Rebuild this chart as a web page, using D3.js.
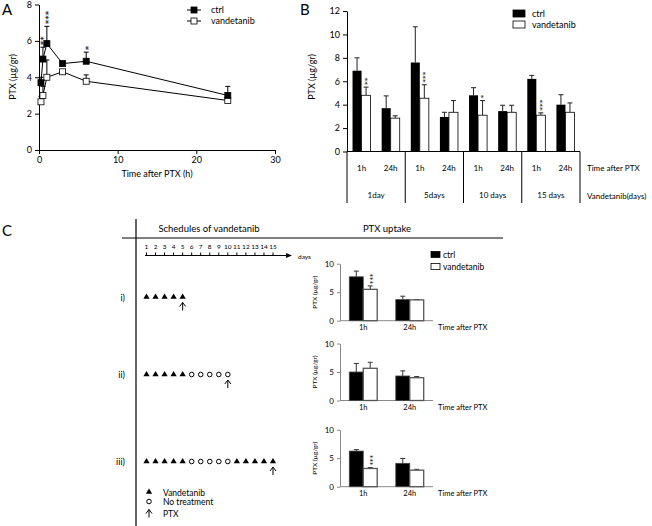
<!DOCTYPE html>
<html>
<head>
<meta charset="utf-8">
<script src="https://cdn.jsdelivr.net/npm/d3@7"></script>
<style>
  body { margin: 0; background: #fff; }
  svg { display: block; font-family: Lato, "Open Sans", sans-serif; }
</style>
</head>
<body>
<svg id="fig" width="652" height="526"></svg>
<script>
// ---- panel A: time course
const timeA = [0.25, 0.5, 1, 3, 6, 24];
const ctrlA = [3.7, 5.0, 5.85, 4.75, 4.88, 3.0];
const ctrlAErr = [0.3, 0.65, 0.95, 0.1, 0.5, 0.5];
const vandA = [2.65, 3.0, 4.0, 4.3, 3.78, 2.72];
const vandAErr = [0.3, 0.5, 0.95, 0.1, 0.35, 0.05];
const sigA = ["", "**", "***", "", "*", ""];
const xTicksA = [0, 10, 20, 30];
const yTicksA = [0, 2, 4, 6, 8];

// ---- panel B: duration of vandetanib
const groupsB = ["1day", "5days", "10 days", "15 days"];
const timesB = ["1h", "24h"];
const ctrlB = [6.9, 3.7, 7.6, 2.95, 4.8, 3.45, 6.2, 4.0];
const ctrlBErr = [1.1, 1.05, 3.05, 0.4, 0.65, 0.5, 0.3, 0.85];
const vandB = [4.8, 2.85, 4.55, 3.35, 3.1, 3.35, 3.1, 3.35];
const vandBErr = [0.7, 0.2, 1.15, 1.0, 1.25, 0.6, 0.2, 0.8];
const sigB = ["**", "", "***", "", "*", "", "***", ""];
const yTicksB = [0, 2, 4, 6, 8, 10, 12];

// ---- panel C: schedules
const rowLabelsC = ["i)", "ii)", "iii)"];
const daysC = d3.range(1, 16);
const scheduleI = ["V", "V", "V", "V", "V"];
const scheduleII = ["V", "V", "V", "V", "V", "N", "N", "N", "N", "N"];
const scheduleIII = ["V", "V", "V", "V", "V", "N", "N", "N", "N", "N", "V", "V", "V", "V", "V"];
const ptxDayC = [5, 10, 15];
const timesC = ["1h", "24h"];
const ctrlC = [[7.7, 3.7], [5.0, 4.3], [6.25, 4.1]];
const ctrlCErr = [[1.0, 0.6], [1.5, 0.9], [0.25, 0.85]];
const vandC = [[5.5, 3.65], [5.65, 4.0], [3.2, 2.9]];
const vandCErr = [[0.6, 0.05], [1.05, 0.2], [0.15, 0.15]];
const sigC = [["***", ""], ["", ""], ["***", ""]];
const yTicksC = [0, 5, 10];

const svg = d3.select("#fig");
const FONT = "Lato, 'Open Sans', sans-serif";

function styleAxis(g, size, color) {
  g.attr("font-family", FONT).attr("font-size", size);
  g.select(".domain").attr("stroke", color);
  g.selectAll(".tick line").attr("stroke", color);
  g.selectAll(".tick text").attr("fill", "#000");
}

// asterisks written bottom-to-top, starting at yBottom
function stars(g, x, yBottom, s, size) {
  g.append("text")
    .attr("transform", `translate(${x + size * 0.5},${yBottom}) rotate(-90)`)
    .attr("font-family", "DejaVu Sans")
    .attr("font-size", size)
    .text(s);
}

function errBar(g, x, y0, y1, w, color) {
  g.append("line").attr("x1", x).attr("x2", x).attr("y1", y0).attr("y2", y1)
    .attr("stroke", color).attr("stroke-width", 1);
  g.append("line").attr("x1", x - w / 2).attr("x2", x + w / 2).attr("y1", y1).attr("y2", y1)
    .attr("stroke", color).attr("stroke-width", 1);
}

// ================= A =================
const gA = svg.append("g");
gA.append("text").attr("x", 2).attr("y", 15).attr("font-size", 15).text("A");

const xA = d3.scaleLinear().domain([0, 30]).range([39, 275]);
const yA = d3.scaleLinear().domain([0, 8]).range([150, 4.5]);

gA.append("g").attr("transform", "translate(0,150)")
  .call(d3.axisBottom(xA).tickValues(xTicksA).tickSize(4).tickSizeOuter(0).tickPadding(3))
  .call(styleAxis, 9, "#000");
gA.append("g").attr("transform", "translate(39,0)")
  .call(d3.axisLeft(yA).tickValues(yTicksA).tickSize(4).tickSizeOuter(0).tickPadding(3))
  .call(styleAxis, 9, "#000");

gA.append("text").attr("x", 157).attr("y", 177).attr("text-anchor", "middle")
  .attr("font-size", 9).text("Time after PTX (h)");
gA.append("text").attr("transform", "translate(16,77) rotate(-90)").attr("text-anchor", "middle")
  .attr("font-size", 9).text("PTX (µg/gr)");

const lineA = d3.line().x(d => xA(d[0])).y(d => yA(d[1]));
const seriesA = [
  { vals: ctrlA, err: ctrlAErr, fill: "#000" },
  { vals: vandA, err: vandAErr, fill: "#fff" }
];
seriesA.forEach(s => {
  gA.append("path").datum(timeA.map((t, i) => [t, s.vals[i]]))
    .attr("d", lineA).attr("fill", "none").attr("stroke", "#000").attr("stroke-width", 1);
});
seriesA.forEach(s => {
  timeA.forEach((t, i) => errBar(gA, xA(t), yA(s.vals[i]), yA(s.vals[i] + s.err[i]), 5, "#000"));
});
seriesA.slice().reverse().forEach(s => {
  gA.selectAll(null).data(timeA.map((t, i) => [t, s.vals[i]])).enter().append("rect")
    .attr("x", d => xA(d[0]) - 3).attr("y", d => yA(d[1]) - 3)
    .attr("width", 6).attr("height", 6)
    .attr("fill", s.fill).attr("stroke", "#000").attr("stroke-width", 0.8);
});
timeA.forEach((t, i) => {
  if (sigA[i]) stars(gA, xA(t) + (i === 1 ? 0 : 1), yA(ctrlA[i] + ctrlAErr[i]) - 2, sigA[i], 9);
});

// legend A
[["ctrl", "#000", 10], ["vandetanib", "#fff", 21]].forEach(([lab, fill, y]) => {
  gA.append("line").attr("x1", 187).attr("x2", 201).attr("y1", y).attr("y2", y).attr("stroke", "#000");
  gA.append("rect").attr("x", 191).attr("y", y - 3).attr("width", 6).attr("height", 6)
    .attr("fill", fill).attr("stroke", "#000").attr("stroke-width", 0.8);
  gA.append("text").attr("x", 211).attr("y", y + 3).attr("font-size", 9).text(lab);
});

// ================= B =================
const gB = svg.append("g");
gB.append("text").attr("x", 300).attr("y", 15).attr("font-size", 15).text("B");

const catsB = groupsB.flatMap(g => timesB.map(t => g + "|" + t));
const xB = d3.scaleBand().domain(catsB).range([347, 580]).paddingInner(0.38).paddingOuter(0.19);
const yB = d3.scaleLinear().domain([0, 12]).range([151.5, 11]);

gB.append("g").attr("transform", "translate(347,0)")
  .call(d3.axisLeft(yB).tickValues(yTicksB).tickSize(4).tickSizeOuter(0).tickPadding(3))
  .call(styleAxis, 9, "#000");
gB.append("text").attr("transform", "translate(315,77) rotate(-90)").attr("text-anchor", "middle")
  .attr("font-size", 9).text("PTX (µg/gr)");

const bwB = xB.bandwidth() / 2;
catsB.forEach((c, i) => {
  const x0 = xB(c);
  errBar(gB, x0 + bwB / 2, yB(ctrlB[i]), yB(ctrlB[i] + ctrlBErr[i]), 5, "#222");
  errBar(gB, x0 + bwB * 1.5, yB(vandB[i]), yB(vandB[i] + vandBErr[i]), 5, "#222");
  gB.append("rect").attr("x", x0).attr("y", yB(ctrlB[i])).attr("width", bwB)
    .attr("height", yB(0) - yB(ctrlB[i])).attr("fill", "#000");
  gB.append("rect").attr("x", x0 + bwB).attr("y", yB(vandB[i])).attr("width", bwB)
    .attr("height", yB(0) - yB(vandB[i])).attr("fill", "#fff").attr("stroke", "#000").attr("stroke-width", 0.8);
  if (sigB[i]) stars(gB, x0 + bwB * 1.5, yB(vandB[i] + vandBErr[i]) - 2, sigB[i], 7.5);
});
// x axis + table below
gB.append("line").attr("x1", 347).attr("x2", 580).attr("y1", yB(0)).attr("y2", yB(0)).attr("stroke", "#000");
gB.append("line").attr("x1", 347).attr("x2", 347).attr("y1", yB(0)).attr("y2", 203).attr("stroke", "#000");
const stepB = xB.step();
groupsB.forEach((g, gi) => {
  const xr = 347 + (gi + 1) * 2 * stepB;
  gB.append("line").attr("x1", xr).attr("x2", xr).attr("y1", yB(0)).attr("y2", 203).attr("stroke", "#000");
  gB.append("text").attr("x", 347 + (gi * 2 + 1) * stepB).attr("y", 198)
    .attr("text-anchor", "middle").attr("font-size", 8).text(g);
  timesB.forEach(t => {
    gB.append("text").attr("x", xB(g + "|" + t) + xB.bandwidth() / 2).attr("y", 170.5)
      .attr("text-anchor", "middle").attr("font-size", 8).text(t);
  });
});
gB.append("text").attr("x", 587).attr("y", 171).attr("font-size", 8).text("Time after PTX");
gB.append("text").attr("x", 587).attr("y", 199).attr("font-size", 8).text("Vandetanib(days)");

// legend B
[["ctrl", "#000", 10], ["vandetanib", "#fff", 21]].forEach(([lab, fill, y]) => {
  gB.append("rect").attr("x", 513).attr("y", y).attr("width", 12).attr("height", 7)
    .attr("fill", fill).attr("stroke", "#000").attr("stroke-width", 0.8);
  gB.append("text").attr("x", 532).attr("y", y + 7).attr("font-size", 9).text(lab);
});

// ================= C =================
const gC = svg.append("g");
gC.append("text").attr("x", 2).attr("y", 236).attr("font-size", 15).text("C");
gC.append("line").attr("x1", 136).attr("x2", 136).attr("y1", 219).attr("y2", 526).attr("stroke", "#000").attr("stroke-width", 1.2);
gC.append("line").attr("x1", 122).attr("x2", 503).attr("y1", 238).attr("y2", 238).attr("stroke", "#000");
gC.append("text").attr("x", 209).attr("y", 232).attr("text-anchor", "middle").attr("font-size", 9.5).text("Schedules of vandetanib");
gC.append("text").attr("x", 387).attr("y", 232).attr("text-anchor", "middle").attr("font-size", 9.5).text("PTX uptake");

// timeline
const xDay = d3.scaleLinear().domain([1, 15]).range([146.5, 273]);
const yLine = 255.5;
gC.append("line").attr("x1", 145).attr("x2", 287).attr("y1", yLine).attr("y2", yLine).attr("stroke", "#000");
gC.append("path").attr("d", `M286,${yLine - 2.5}L292,${yLine}L286,${yLine + 2.5}Z`).attr("fill", "#000");
daysC.forEach(d => {
  gC.append("line").attr("x1", xDay(d)).attr("x2", xDay(d)).attr("y1", yLine).attr("y2", yLine - 3).attr("stroke", "#000");
  gC.append("text").attr("x", xDay(d)).attr("y", 249).attr("text-anchor", "middle").attr("font-size", 6.5).text(d);
});
gC.append("text").attr("x", 298).attr("y", 259).attr("font-size", 6.5).text("days");

const triangle = d3.symbol(d3.symbolTriangle).size(17);
function ptxArrow(g, x, y) {
  g.append("path").attr("d", `M${x},${y}V${y + 8}M${x - 3},${y + 4}L${x},${y}L${x + 3},${y + 4}`)
    .attr("fill", "none").attr("stroke", "#000").attr("stroke-width", 1);
}
function marker(g, type, x, y) {
  if (type === "V") {
    g.append("path").attr("d", triangle()).attr("transform", `translate(${x},${y})`).attr("fill", "#000");
  } else {
    g.append("circle").attr("cx", x).attr("cy", y).attr("r", 2.3).attr("fill", "#fff").attr("stroke", "#000").attr("stroke-width", 1);
  }
}

const schedules = [scheduleI, scheduleII, scheduleIII];
const rowY = [297, 374.5, 461.5];
const chartBase = [320.7, 400.5, 486.7];

schedules.forEach((sch, r) => {
  gC.append("text").attr("x", 125).attr("y", rowY[r] + 3.5).attr("text-anchor", "end").attr("font-size", 9).text(rowLabelsC[r]);
  sch.forEach((t, i) => marker(gC, t, xDay(i + 1), rowY[r]));
  ptxArrow(gC, xDay(ptxDayC[r]), rowY[r] + 5.5);

  // small bar chart
  const yC = d3.scaleLinear().domain([0, 10]).range([chartBase[r], chartBase[r] - 57]);
  const xC = d3.scaleBand().domain(timesC).range([340, 433]).paddingInner(0.4).paddingOuter(0.2);
  const g = gC.append("g");
  g.append("g").attr("transform", "translate(340,0)")
    .call(d3.axisLeft(yC).tickValues(yTicksC).tickSize(3).tickSizeOuter(0).tickPadding(3))
    .call(styleAxis, 8, "#888");
  g.append("line").attr("x1", 340).attr("x2", 433).attr("y1", yC(0)).attr("y2", yC(0)).attr("stroke", "#888");
  g.append("text").attr("transform", `translate(317,${yC(5)}) rotate(-90)`).attr("text-anchor", "middle")
    .attr("font-size", 6.5).text("PTX (µg/gr)");
  const bw = xC.bandwidth() / 2;
  timesC.forEach((t, j) => {
    const x0 = xC(t);
    errBar(g, x0 + bw / 2, yC(ctrlC[r][j]), yC(ctrlC[r][j] + ctrlCErr[r][j]), 5, "#333");
    errBar(g, x0 + bw * 1.5, yC(vandC[r][j]), yC(vandC[r][j] + vandCErr[r][j]), 5, "#333");
    g.append("rect").attr("x", x0).attr("y", yC(ctrlC[r][j])).attr("width", bw)
      .attr("height", yC(0) - yC(ctrlC[r][j])).attr("fill", "#000").attr("stroke", "#444").attr("stroke-width", 0.8);
    g.append("rect").attr("x", x0 + bw).attr("y", yC(vandC[r][j])).attr("width", bw)
      .attr("height", yC(0) - yC(vandC[r][j])).attr("fill", "#fff").attr("stroke", "#555").attr("stroke-width", 1.3);
    g.append("text").attr("x", x0 + bw).attr("y", yC(0) + 9.5).attr("text-anchor", "middle").attr("font-size", 7.5).text(t);
    if (sigC[r][j]) stars(g, x0 + bw * 2 - 6, yC(vandC[r][j] + vandCErr[r][j]) - 2, sigC[r][j], 7);
  });
  g.append("text").attr("x", 438).attr("y", yC(0) + 9.5).attr("font-size", 7.5).text("Time after PTX");
});

// legend C (bars)
[["ctrl", "#000", 251.5], ["vandetanib", "#fff", 263.5]].forEach(([lab, fill, y]) => {
  gC.append("rect").attr("x", 431).attr("y", y).attr("width", 9).attr("height", 6)
    .attr("fill", fill).attr("stroke", "#000").attr("stroke-width", 0.8);
  gC.append("text").attr("x", 443).attr("y", y + 6.5).attr("font-size", 8.5).text(lab);
});

// legend C (schedule symbols)
marker(gC, "V", 149, 492);
gC.append("text").attr("x", 163).attr("y", 495.5).attr("font-size", 8.5).text("Vandetanib");
marker(gC, "N", 149, 501.5);
gC.append("text").attr("x", 163).attr("y", 505).attr("font-size", 8.5).text("No treatment");
ptxArrow(gC, 149, 509.5);
gC.append("text").attr("x", 163).attr("y", 516.5).attr("font-size", 8.5).text("PTX");
</script>
</body>
</html>
